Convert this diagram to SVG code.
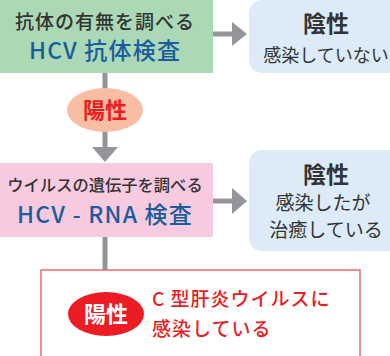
<svg xmlns="http://www.w3.org/2000/svg" width="390" height="356" viewBox="0 0 390 356">
<defs>
<style>
text{font-family:"Noto Sans CJK JP","Noto Sans",sans-serif;}
.dark{fill:#333333;font-weight:500;}
.blue{fill:#1a5d9e;font-weight:500;letter-spacing:1.2px;}
.line{stroke:#939598;stroke-width:5;fill:none;}
.head{fill:#939598;}
.neg{fill:#dcebf7;}
</style>
</defs>
<g id="connectors">
<line class="line" x1="212" y1="34" x2="234" y2="34"/>
<polygon class="head" points="232,22 247,34 232,46"/>
<line class="line" x1="105" y1="73" x2="105" y2="89"/>
<line class="line" x1="105" y1="131" x2="105" y2="149"/>
<polygon class="head" points="92,147 118,147 105,162"/>
<line class="line" x1="212" y1="201" x2="234" y2="201"/>
<polygon class="head" points="232,188 247,201 232,214"/>
<line class="line" x1="105" y1="237" x2="105" y2="276"/>
<polygon class="head" points="92,274 119,274 105.5,290"/>
</g>
<g id="antibody-test">
<rect x="0" y="0" width="213" height="73" fill="#abd9b5"/>
<text class="dark" x="105" y="29" font-size="19" letter-spacing="1" text-anchor="middle">抗体の有無を調べる</text>
<text class="blue" x="105" y="59" font-size="23" text-anchor="middle">HCV 抗体検査</text>
</g>
<g id="negative1">
<rect class="neg" x="249" y="0" width="160" height="73" rx="13"/>
<text x="326" y="32" font-size="23" font-weight="700" fill="#333" text-anchor="middle">陰性</text>
<text x="326" y="62" font-size="18" fill="#333" text-anchor="middle">感染していない</text>
</g>
<g id="positive1">
<ellipse cx="105" cy="110" rx="38" ry="22" fill="#f9bda3"/>
<text x="105" y="118" font-size="22" font-weight="700" fill="#ec1c24" text-anchor="middle">陽性</text>
</g>
<g id="rna-test">
<rect x="0" y="163" width="213" height="74" fill="#f8cadf"/>
<text class="dark" x="105" y="191" font-size="16.3" text-anchor="middle">ウイルスの遺伝子を調べる</text>
<text class="blue" x="105" y="223" font-size="23" text-anchor="middle">HCV - RNA 検査</text>
</g>
<g id="negative2">
<rect class="neg" x="249" y="150" width="160" height="101" rx="13"/>
<text x="326" y="183" font-size="23" font-weight="700" fill="#333" text-anchor="middle">陰性</text>
<text x="323" y="210" font-size="19" fill="#333" text-anchor="middle">感染したが</text>
<text x="326" y="237" font-size="19" fill="#333" text-anchor="middle">治癒している</text>
</g>
<g id="result">
<rect x="41" y="270" width="319" height="90" fill="#ffffff" stroke="#ee6a70" stroke-width="1.5"/>
<ellipse cx="106" cy="314" rx="38" ry="22" fill="#ec1c24"/>
<text x="106" y="322" font-size="22" font-weight="700" fill="#ffffff" text-anchor="middle">陽性</text>
<text x="152" y="306" font-size="19" font-weight="500" fill="#ec1c24" letter-spacing="1">C 型肝炎ウイルスに</text>
<text x="152" y="336" font-size="19" font-weight="500" fill="#ec1c24" letter-spacing="1">感染している</text>
</g>
</svg>
